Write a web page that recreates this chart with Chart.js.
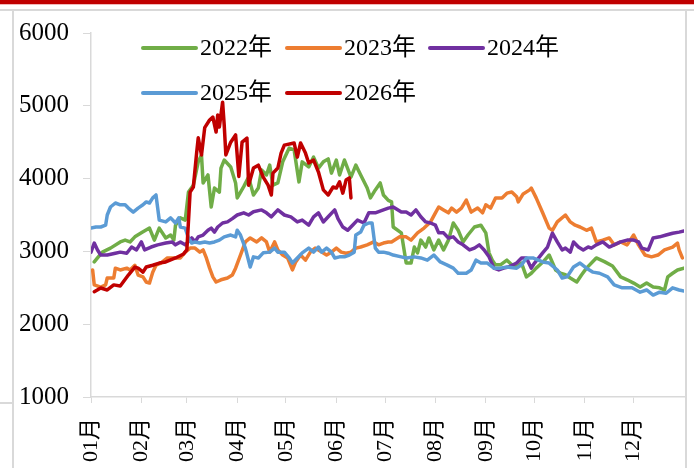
<!DOCTYPE html>
<html lang="zh-CN">
<head>
  <meta charset="UTF-8">
  <title>2022-2026年 走势对比</title>
  <script src="https://cdn.jsdelivr.net/npm/chart.js@4/dist/chart.umd.min.js"></script>
  <style>
    body { margin: 0; background: #fff; }
    #chart { display: block; }
  </style>
</head>
<body>
  <canvas id="chart" width="694" height="468"></canvas>

  <script>
    // 横轴：一年中的第几天（0 = 1月1日），月份刻度
    const monthLabels = ["01月", "02月", "03月", "04月", "05月", "06月", "07月", "08月", "09月", "10月", "11月", "12月"];
    const monthStarts = [0, 31, 59, 90, 120, 151, 181, 212, 243, 273, 304, 334];
    const yTicks = [1000, 2000, 3000, 4000, 5000, 6000];

    const seriesNames = ["2022年", "2023年", "2024年", "2025年", "2026年"];
    const seriesColors = ["#70AD47", "#ED7D31", "#7030A0", "#5B9BD5", "#C00000"];

    const days2022 = [2, 4, 7, 12, 18, 21, 24, 27, 31, 36,
      39, 42, 46, 49, 51, 52, 55, 58, 60, 63,
      66, 68, 69, 72, 74, 76, 79, 80, 82, 86,
      89, 90, 94, 97, 100, 103, 105, 108, 110, 112,
      115, 118, 122, 125, 128, 130, 134, 137, 140, 143,
      146, 148, 151, 153, 156, 160, 163, 166, 170, 172,
      175, 178, 180, 183, 185, 186, 191, 194, 197, 199,
      201, 203, 206, 208, 211, 214, 217, 220, 223, 226,
      229, 232, 236, 240, 243, 245, 247, 249, 252, 256,
      259, 262, 265, 268, 271, 274, 278, 282, 286, 289,
      292, 295, 299, 302, 305, 311, 316, 321, 326, 330,
      334, 338, 342, 346, 350, 353, 355, 358, 361, 365];
    const vals2022 = [2855, 2910, 2990, 3045, 3130, 3155, 3130, 3200, 3255, 3320,
      3155, 3320, 3185, 3225, 3155, 3360, 3460, 3430, 3815, 3910,
      4230, 4325, 3940, 4050, 3610, 3870, 3815, 4145, 4255, 4160,
      3940, 3735, 3890, 4020, 3775, 3870, 4120, 4050, 4185, 3910,
      3940, 4230, 4420, 4395, 3955, 4230, 4160, 4295, 4145, 4230,
      4270, 4075, 4255, 4050, 4255, 4020, 4185, 4050, 3870, 3735,
      3845, 3940, 3775, 3700, 3680, 3335, 3255, 2840, 2840, 3060,
      2980, 3155, 3060, 3185, 3020, 3155, 3020, 3155, 3390, 3290,
      3130, 3225, 3335, 3360, 3255, 2980, 2880, 2815, 2815, 2880,
      2815, 2785, 2840, 2650, 2700, 2770, 2850, 2950, 2745, 2700,
      2680, 2635, 2580, 2680, 2770, 2910, 2860, 2800, 2650, 2610,
      2565, 2510, 2565, 2510, 2500, 2470, 2650, 2700, 2745, 2770];

    const days2023 = [1, 2, 6, 9, 10, 14, 15, 18, 22, 24,
      27, 29, 32, 34, 36, 38, 40, 43, 47, 52,
      55, 58, 61, 64, 67, 69, 71, 73, 75, 77,
      80, 84, 87, 89, 92, 95, 98, 102, 105, 108,
      110, 113, 115, 118, 121, 124, 126, 129, 132, 135,
      138, 142, 145, 148, 151, 154, 157, 160, 163, 166,
      170, 174, 177, 180, 183, 185, 190, 194, 197, 201,
      205, 209, 212, 214, 217, 220, 222, 225, 228, 231,
      234, 238, 241, 243, 246, 249, 253, 256, 259, 262,
      263, 266, 270, 271, 274, 278, 282, 284, 287, 292,
      295, 298, 301, 305, 308, 311, 315, 319, 322, 326,
      330, 334, 337, 341, 345, 349, 353, 358, 361, 362,
      364];
    const vals2023 = [2745, 2540, 2510, 2540, 2635, 2635, 2770, 2745, 2770, 2745,
      2810, 2675, 2650, 2580, 2565, 2715, 2810, 2840, 2910, 2910,
      2910, 2990, 3045, 3045, 2990, 3020, 2910, 2770, 2650, 2580,
      2610, 2635, 2675, 2770, 2950, 3130, 3185, 3130, 3185, 3130,
      2990, 3130, 3020, 2950, 2910, 2745, 2855, 2950, 2880, 2990,
      3045, 2990, 2950, 2990, 3045, 2990, 2975, 2990, 3045, 3060,
      3090, 3130, 3090, 3115, 3130, 3130, 3200, 3200, 3155, 3255,
      3320, 3405, 3530, 3610, 3570, 3530, 3595, 3540, 3595, 3705,
      3540, 3595, 3530, 3640, 3595, 3735, 3735, 3800, 3815, 3750,
      3680, 3790, 3845, 3870, 3735, 3530, 3320, 3290, 3405, 3500,
      3405, 3360, 3335, 3290, 3320, 3130, 3155, 3185, 3090, 3130,
      3090, 3225, 3090, 2950, 2925, 2950, 3020, 3060, 3115, 3020,
      2910];

    const days2024 = [0, 2, 4, 6, 10, 15, 18, 22, 25, 28,
      31, 33, 37, 41, 46, 50, 52, 55, 58, 62,
      64, 66, 69, 72, 74, 76, 78, 81, 84, 87,
      90, 94, 97, 100, 105, 108, 111, 115, 119, 123,
      127, 130, 134, 137, 140, 143, 146, 150, 152, 155,
      158, 161, 164, 168, 171, 175, 180, 183, 186, 191,
      194, 197, 200, 203, 206, 209, 212, 214, 217, 220,
      223, 226, 229, 233, 236, 239, 242, 245, 248, 251,
      254, 257, 262, 265, 268, 271, 273, 278, 281, 284,
      287, 290, 292, 295, 297, 300, 303, 306, 308, 311,
      315, 319, 322, 326, 330, 334, 337, 339, 343, 346,
      350, 354, 358, 362, 365];
    const vals2024 = [2990, 3115, 3020, 2950, 2950, 2975, 2990, 2975, 3060, 3020,
      3130, 3020, 3060, 3090, 3115, 3130, 3090, 3130, 3090, 3185,
      3130, 3200, 3225, 3290, 3320, 3265, 3335, 3390, 3405, 3450,
      3500, 3530, 3500, 3545, 3570, 3530, 3475, 3570, 3500, 3475,
      3405, 3430, 3360, 3475, 3530, 3405, 3475, 3570, 3450, 3335,
      3290, 3360, 3430, 3390, 3530, 3530, 3570, 3595, 3610, 3540,
      3540, 3500, 3570, 3475, 3405, 3390, 3360, 3255, 3255, 3185,
      3200, 3130, 3090, 3020, 3045, 3090, 3020, 2925, 2770, 2745,
      2770, 2785, 2840, 2910, 2910, 2770, 2840, 2980, 3060, 3250,
      3130, 3020, 3045, 2990, 3130, 3060, 3020, 3060, 3045, 3090,
      3130, 3060, 3090, 3130, 3155, 3155, 3130, 3045, 3020, 3185,
      3200, 3225, 3250, 3265, 3280];

    const days2025 = [0, 3, 6, 9, 10, 12, 15, 18, 21, 23,
      26, 29, 32, 34, 36, 38, 40, 42, 46, 49,
      52, 54, 55, 58, 60, 62, 64, 67, 70, 73,
      76, 79, 82, 86, 89, 90, 92, 95, 98, 100,
      103, 106, 110, 113, 115, 119, 122, 124, 127, 130,
      134, 137, 140, 142, 145, 148, 150, 153, 156, 159,
      162, 163, 166, 168, 171, 173, 175, 177, 180, 183,
      186, 191, 194, 199, 203, 207, 211, 215, 219, 223,
      226, 231, 234, 237, 240, 244, 248, 252, 256, 262,
      265, 268, 272, 278, 282, 287, 290, 293, 297, 301,
      305, 309, 313, 318, 322, 327, 333, 338, 342, 346,
      350, 354, 358, 362, 365];
    const vals2025 = [3320, 3335, 3335, 3360, 3500, 3610, 3665, 3640, 3640, 3595,
      3540, 3595, 3640, 3680, 3665, 3735, 3775, 3430, 3405, 3460,
      3390, 3460, 3335, 3320, 3185, 3115, 3130, 3115, 3130, 3115,
      3130, 3155, 3200, 3225, 3200, 3290, 3225, 3045, 2785, 2925,
      2910, 2980, 2990, 3045, 2990, 2990, 2910, 2840, 2910, 2980,
      3045, 2990, 3060, 2990, 3045, 2990, 2910, 2925, 2925, 2950,
      2990, 3225, 3265, 3360, 3390, 3390, 3045, 2990, 2990, 2975,
      2950, 2925, 2910, 2925, 2910, 2880, 2950, 2855, 2815, 2770,
      2700, 2700, 2745, 2880, 2840, 2840, 2770, 2770, 2785, 2770,
      2815, 2910, 2910, 2855, 2840, 2745, 2635, 2650, 2785, 2840,
      2770, 2715, 2700, 2650, 2540, 2500, 2500, 2440, 2470, 2400,
      2440, 2425, 2500, 2470, 2455];

    const days2026 = [2, 6, 10, 14, 18, 23, 27, 29, 32, 34,
      38, 42, 46, 52, 57, 59, 61, 63, 65, 66,
      68, 70, 73, 75, 77, 78, 79, 81, 82, 83,
      86, 89, 91, 93, 96, 97, 100, 103, 106, 109,
      111, 112, 115, 117, 119, 125, 127, 129, 132, 134,
      137, 140, 143, 146, 149, 151, 153, 155, 157, 159,
      160];
    const vals2026 = [2446, 2497, 2470, 2540, 2525, 2675, 2785, 2770, 2715, 2785,
      2810, 2840, 2855, 2910, 2965, 3020, 3815, 3885, 4350, 4560,
      4325, 4700, 4805, 4845, 4640, 4875, 4710, 5050, 4735, 4325,
      4500, 4600, 4030, 4500, 4555, 3910, 4145, 4185, 4020, 3910,
      3775, 4075, 4145, 4350, 4460, 4490, 4295, 4490, 4350, 4215,
      4255, 4090, 3845, 3775, 3885, 3870, 3955, 3800, 3980, 4010,
      3735];

    const allDays = [days2022, days2023, days2024, days2025, days2026];
    const allVals = [vals2022, vals2023, vals2024, vals2025, vals2026];

    const serif = "'Times New Roman', 'Liberation Serif', 'Noto Sans CJK SC', serif";

    const datasets = seriesNames.map((name, i) => ({
      label: name,
      data: allDays[i].map((d, k) => ({ x: d, y: allVals[i][k] })),
      borderColor: seriesColors[i],
      backgroundColor: seriesColors[i],
      borderWidth: 3.5,
      pointRadius: 0,
      tension: 0,
      borderJoinStyle: "round",
      borderCapStyle: "round",
      order: seriesNames.length - i   // 后面的年份画在上层
    }));

    // 页面边框：顶部红条和浅灰分隔线
    const framePlugin = {
      id: "frame",
      beforeDraw(chart) {
        const ctx = chart.ctx;
        const w = chart.width, h = chart.height;
        ctx.save();
        ctx.fillStyle = "#fff";
        ctx.fillRect(0, 0, w, h);
        ctx.fillStyle = "#C00000";
        ctx.fillRect(0, 0, w, 4);
        ctx.fillStyle = "#F2B8B8";
        ctx.fillRect(0, 4, w, 1);
        ctx.strokeStyle = "#D9D9D9";
        ctx.lineWidth = 2;
        ctx.beginPath();
        ctx.moveTo(0, 10); ctx.lineTo(w, 10);
        ctx.moveTo(13, 10); ctx.lineTo(13, h);
        ctx.moveTo(0, 403); ctx.lineTo(13, 403);
        ctx.moveTo(686, 10); ctx.lineTo(686, h);
        ctx.stroke();
        ctx.restore();
      }
    };

    // 图例画在绘图区内，三列两行
    const legendPlugin = {
      id: "insideLegend",
      afterDraw(chart) {
        const ctx = chart.ctx;
        const left = chart.chartArea.left;
        const colX = [left + 52, left + 196, left + 339];
        const rowY = [48, 93];
        ctx.save();
        ctx.font = "24px " + serif;
        ctx.textBaseline = "middle";
        ctx.fillStyle = "#000";
        chart.data.datasets.forEach((ds, i) => {
          const x = colX[i % 3];
          const y = rowY[Math.floor(i / 3)];
          ctx.strokeStyle = ds.borderColor;
          ctx.lineWidth = 4;
          ctx.lineCap = "round";
          ctx.beginPath();
          ctx.moveTo(x, y);
          ctx.lineTo(x + 53, y);
          ctx.stroke();
          ctx.fillText(ds.label, x + 57, y + 1);
        });
        ctx.restore();
      }
    };

    new Chart(document.getElementById("chart"), {
      type: "line",
      data: { datasets },
      options: {
        responsive: false,
        animation: false,
        layout: { padding: { top: 33, right: 10, left: 0, bottom: 0 } },
        plugins: { legend: { display: false }, tooltip: { enabled: false } },
        scales: {
          x: {
            type: "linear",
            min: 0,
            max: 365,
            afterBuildTicks: s => { s.ticks = monthStarts.map(v => ({ value: v })); },
            afterFit: s => { s.height = 71; },
            ticks: {
              autoSkip: false,
              minRotation: 90,
              maxRotation: 90,
              padding: 15,
              color: "#000",
              font: { family: serif, size: 22 },
              callback: (v, i) => monthLabels[i]
            },
            grid: { drawOnChartArea: false, tickLength: 6, color: "#D9D9D9" },
            border: { color: "#D9D9D9", width: 1.5 }
          },
          y: {
            min: 1000,
            max: 6000,
            afterBuildTicks: s => { s.ticks = yTicks.map(v => ({ value: v })); },
            afterFit: s => { s.width = 91; },
            ticks: {
              padding: 14,
              color: "#000",
              font: { family: serif, size: 25 },
              callback: v => String(v)
            },
            grid: { drawOnChartArea: false, tickLength: 8, color: "#D9D9D9" },
            border: { color: "#D9D9D9", width: 1.5 }
          }
        }
      },
      plugins: [framePlugin, legendPlugin]
    });
  </script>
</body>
</html>
